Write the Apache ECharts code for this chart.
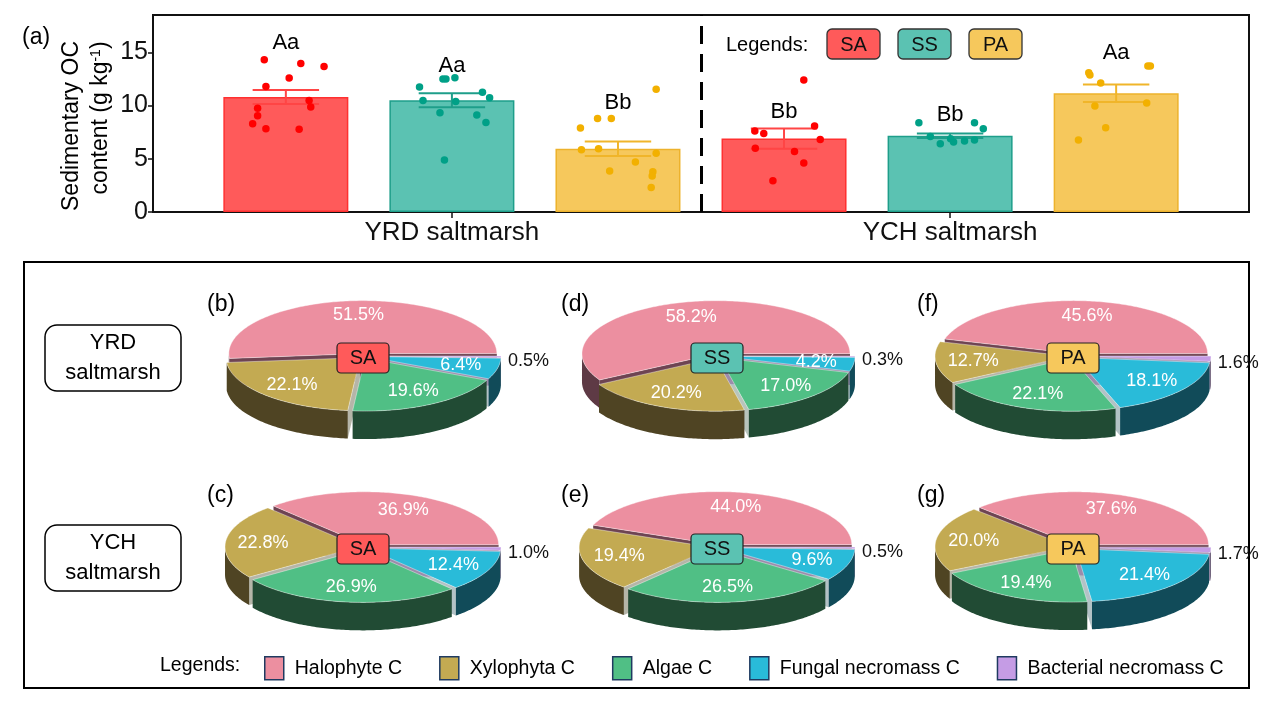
<!DOCTYPE html>
<html><head><meta charset="utf-8">
<script src="https://cdn.jsdelivr.net/npm/echarts@6/dist/echarts.min.js"></script>
<style>html,body{margin:0;padding:0;background:#fff}#c{width:1268px;height:714px}</style>
</head><body><div id="c"></div>
<script>
// ================= DATA =================
// Panel (a): sedimentary OC (g kg-1)
const sites = ['YRD saltmarsh', 'YCH saltmarsh'];
const species = ['SA', 'SS', 'PA'];
const meanYRD = [10.8, 10.5, 5.95];
const seYRD = [0.66, 0.66, 0.68];
const meanYCH = [6.9, 7.17, 11.15];
const seYCH = [0.95, 0.21, 0.83];
const lettersYRD = ['Aa', 'Aa', 'Bb'];
const lettersYCH = ['Bb', 'Bb', 'Aa'];
const yTicks = [0, 5, 10, 15];
// individual observations and their horizontal jitter (in bar units)
const obsYRD_SA = [14.3, 13.95, 13.67, 12.58, 11.78, 10.47, 9.87, 9.75, 9.03, 8.28, 7.81, 7.76];
const jitYRD_SA = [-0.13, 0.09, 0.23, 0.02, -0.12, 0.14, 0.15, -0.17, -0.17, -0.2, -0.12, 0.08];
const obsYRD_SS = [11.74, 12.49, 12.49, 12.6, 11.24, 10.74, 10.47, 10.37, 9.31, 9.12, 8.41, 4.89];
const jitYRD_SS = [-0.195, -0.054, -0.036, 0.018, 0.184, 0.227, -0.174, 0.023, -0.072, 0.15, 0.205, -0.045];
const obsYRD_PA = [11.52, 8.78, 8.78, 7.88, 5.85, 5.95, 5.51, 4.7, 3.86, 3.77, 3.39, 2.3];
const jitYRD_PA = [0.23, -0.123, -0.04, -0.226, -0.22, -0.117, 0.23, 0.105, -0.05, 0.21, 0.206, 0.2];
const obsYCH_SA = [12.39, 8.07, 7.6, 7.38, 6.82, 5.98, 5.67, 4.61, 2.93];
const jitYCH_SA = [0.119, 0.184, -0.176, -0.122, 0.218, -0.173, 0.063, 0.119, -0.067];
const obsYCH_SS = [8.37, 8.37, 7.81, 7.1, 6.88, 6.57, 6.66, 6.76, 6.41];
const jitYCH_SS = [-0.188, 0.147, 0.2, -0.119, 0.003, 0.021, 0.087, 0.147, -0.059];
const obsYCH_PA = [13.7, 13.7, 13.08, 12.86, 12.11, 9.96, 10.24, 7.91, 6.76];
const jitYCH_PA = [0.191, 0.206, -0.165, -0.158, -0.093, -0.128, 0.184, -0.063, -0.227];

// Panels (b)-(g): OC source shares (%), pie order: YRD-SA, YRD-SS, YRD-PA, YCH-SA, YCH-SS, YCH-PA
const sourceNames = ['Halophyte C', 'Xylophyta C', 'Algae C', 'Fungal necromass C', 'Bacterial necromass C'];
const pieTags = ['(b)', '(d)', '(f)', '(c)', '(e)', '(g)'];
const pieSpecies = ['SA', 'SS', 'PA', 'SA', 'SS', 'PA'];
const rowLabels = ['YRD\nsaltmarsh', 'YCH\nsaltmarsh'];
const halophyte = [51.5, 58.2, 45.6, 36.9, 44.0, 37.6];
const xylophyta = [22.1, 20.2, 12.7, 22.8, 19.4, 20.0];
const algae = [19.6, 17.0, 22.1, 26.9, 26.5, 19.4];
const fungal = [6.4, 4.2, 18.1, 12.4, 9.6, 21.4];
const bacterial = [0.5, 0.3, 1.6, 1.0, 0.5, 1.7];
const sources = [halophyte, xylophyta, algae, fungal, bacterial];

// ================= STYLE / LAYOUT =================
const FONT = '"Liberation Sans", Arial, Helvetica, sans-serif';
const barFill = ['#FF5A5A', '#5BC2B2', '#F6C85C'];
const barLine = ['#FF3030', '#1E9E8A', '#EDB22C'];
const ptColor = ['#FF0000', '#00A087', '#F2B000'];
const errColor = ['#FF4545', '#1E9E8A', '#F0B52A'];
const letterYRD = [15.9, 13.75, 10.2];
const letterYCH = [9.4, 9.15, 14.9];
const topColors = ['#EC8FA0', '#C3AA52', '#50BF85', '#29BBD9', '#C59CE5'];
const sideColors = ['#5E3A45', '#4F4423', '#214B34', '#114B59', '#4E3F5C'];
const wallColors = ['#6e4452', '#b5b5a8', '#b8c4bc', '#b3c2c6', '#9c8cab'];
const PIE = { cx: [363, 717, 1073], cy: [356, 547], rx: 134, ry: 53, depth: 28, explode: 4 };

function xPos(siteIdx, spIdx) { return siteIdx * 3 + spIdx + 1; }

// ---- bar data ----
const means = [meanYRD, meanYCH], ses = [seYRD, seYCH], letters = [lettersYRD, lettersYCH], letterPos = [letterYRD, letterYCH];
const obs = [[obsYRD_SA, obsYRD_SS, obsYRD_PA], [obsYCH_SA, obsYCH_SS, obsYCH_PA]];
const jit = [[jitYRD_SA, jitYRD_SS, jitYRD_PA], [jitYCH_SA, jitYCH_SS, jitYCH_PA]];

const barData = [], errData = [], letterData = [];
sites.forEach((s, i) => species.forEach((sp, k) => {
  const x = xPos(i, k);
  barData.push({ value: [x, means[i][k]], itemStyle: { color: barFill[k], borderColor: barLine[k], borderWidth: 1.5 } });
  errData.push([x, means[i][k], ses[i][k], k]);
  letterData.push([x, letterPos[i][k], i, k]);
}));

const pointSeries = species.map((sp, k) => {
  const d = [];
  sites.forEach((s, i) => obs[i][k].forEach((v, j) => d.push([xPos(i, k) + jit[i][k][j], v])));
  return { type: 'scatter', name: sp + ' obs', data: d, symbolSize: 7.5, itemStyle: { color: ptColor[k], opacity: 1 }, z: 5, silent: true };
});

// ---- pie geometry helpers ----
function pieGeom(p, k) {
  const vals = sources.map(s => s[p]);
  const total = vals.reduce((a, b) => a + b, 0);
  let before = 0; for (let j = 0; j < k; j++) before += vals[j];
  const a0 = before / total * 2 * Math.PI, a1 = (before + vals[k]) / total * 2 * Math.PI;
  const mid = (a0 + a1) / 2;
  const cx = PIE.cx[p % 3] + PIE.explode * Math.cos(mid);
  const cy = PIE.cy[Math.floor(p / 3)] - PIE.explode * 0.6 * Math.sin(mid);
  return { a0, a1, mid, cx, cy, value: vals[k] };
}
function ept(g, t, dz) { return [g.cx + PIE.rx * Math.cos(t), g.cy - PIE.ry * Math.sin(t) + (dz || 0)]; }
function arcPts(g, t0, t1, dz) {
  const n = Math.max(2, Math.ceil(Math.abs(t1 - t0) / (Math.PI / 180)));
  const pts = [];
  for (let i = 0; i <= n; i++) pts.push(ept(g, t0 + (t1 - t0) * i / n, dz));
  return pts;
}
const pieIdxData = pieTags.map((t, i) => [i]);

// cut faces (visible only through the explode gaps)
const wallSeries = sources.map((src, k) => ({
  type: 'custom', name: 'wall-' + k, coordinateSystem: 'none', silent: true, z: 1,
  data: pieIdxData,
  renderItem: (params, api) => {
    const p = api.value(0), g = pieGeom(p, k), D = PIE.depth, children = [];
    const wall = (t) => { const e = ept(g, t, 0); return { type: 'polygon', shape: { points: [[g.cx, g.cy], e, [e[0], e[1] + D], [g.cx, g.cy + D]] }, style: { fill: wallColors[k] } }; };
    if (Math.cos(g.a0) > 0.001) children.push(wall(g.a0));
    if (Math.cos(g.a1) < -0.001) children.push(wall(g.a1));
    return { type: 'group', children };
  }
}));

// outer curved sides
const sideSeries = sources.map((src, k) => ({
  type: 'custom', name: 'side-' + k, coordinateSystem: 'none', silent: true, z: 2,
  data: pieIdxData,
  renderItem: (params, api) => {
    const p = api.value(0), g = pieGeom(p, k), D = PIE.depth, children = [];
    const t0 = Math.max(g.a0, Math.PI), t1 = Math.min(g.a1, 2 * Math.PI);
    if (t1 > t0) {
      const top = arcPts(g, t0, t1, 0), bot = arcPts(g, t1, t0, D);
      children.push({ type: 'polygon', shape: { points: top.concat(bot) }, style: { fill: sideColors[k] } });
    }
    return { type: 'group', children };
  }
}));

// top faces with percentage labels
const topSeries = sources.map((src, k) => ({
  type: 'custom', name: sourceNames[k], coordinateSystem: 'none', silent: true, z: 3,
  data: pieIdxData,
  itemStyle: { color: topColors[k] },
  renderItem: (params, api) => {
    const p = api.value(0), g = pieGeom(p, k);
    const pts = [[g.cx, g.cy]].concat(arcPts(g, g.a0, g.a1, 0));
    const children = [{ type: 'polygon', shape: { points: pts }, style: { fill: topColors[k], stroke: 'rgba(255,255,255,0.5)', lineWidth: 0.8 } }];
    const txt = g.value.toFixed(1) + '%';
    if (g.value >= 3) {
      children.push({ type: 'text', z2: 10, x: g.cx + 0.72 * PIE.rx * Math.cos(g.mid), y: g.cy - 0.72 * PIE.ry * Math.sin(g.mid),
        style: { text: txt, fill: '#fff', fontSize: 18, fontFamily: FONT, align: 'center', verticalAlign: 'middle' } });
    } else {
      children.push({ type: 'text', z2: 10, x: g.cx + PIE.rx * Math.cos(g.mid) + 7, y: g.cy - PIE.ry * Math.sin(g.mid) + 4,
        style: { text: txt, fill: '#111', fontSize: 18, fontFamily: FONT, align: 'left', verticalAlign: 'middle' } });
    }
    return { type: 'group', children };
  }
}));

// ---- graphics (annotations) ----
const graphics = [];
function addText(x, y, text, size) {
  graphics.push({ type: 'text', x, y, z: 100, style: { text, fontSize: size, fontFamily: FONT, fill: '#000', align: 'left', verticalAlign: 'middle' } });
}
addText(22, 38, '(a)', 23);
graphics.push({ type: 'text', x: 72, y: 126, rotation: Math.PI / 2, z: 100, style: { text: 'Sedimentary OC', fontSize: 23, fontFamily: FONT, fill: '#000', align: 'center', verticalAlign: 'middle' } });
graphics.push({ type: 'text', x: 101, y: 118, rotation: Math.PI / 2, z: 100, style: { text: 'content (g kg{sup|-1})', fontSize: 23, fontFamily: FONT, fill: '#000', align: 'center', verticalAlign: 'middle', rich: { sup: { fontSize: 14, fontFamily: FONT, verticalAlign: 'top', fill: '#000' } } } });
// top legend
addText(726, 45, 'Legends:', 20);
species.forEach((sp, k) => {
  const x = 827 + k * 71;
  graphics.push({ type: 'rect', z: 100, shape: { x, y: 29, width: 53, height: 30, r: 5 }, style: { fill: barFill[k], stroke: '#333', lineWidth: 1.3 } });
  graphics.push({ type: 'text', z: 101, x: x + 26.5, y: 45, style: { text: sp, fontSize: 20, fontFamily: FONT, fill: '#111', align: 'center', verticalAlign: 'middle' } });
});
// bottom panel frame
graphics.push({ type: 'rect', z: 0, shape: { x: 24, y: 262, width: 1225, height: 426 }, style: { fill: 'none', stroke: '#000', lineWidth: 2 } });
rowLabels.forEach((t, r) => {
  const y = 325 + r * 200;
  graphics.push({ type: 'rect', z: 100, shape: { x: 45, y, width: 136, height: 66, r: 12 }, style: { fill: '#fff', stroke: '#000', lineWidth: 1.5 } });
  graphics.push({ type: 'text', z: 101, x: 113, y: y + 33, style: { text: t, fontSize: 22, lineHeight: 30, fontFamily: FONT, fill: '#000', align: 'center', verticalAlign: 'middle' } });
});
pieTags.forEach((t, p) => {
  const cx = PIE.cx[p % 3], cy = PIE.cy[Math.floor(p / 3)];
  addText(cx - 156, cy - 51, t, 23);
  const k = species.indexOf(pieSpecies[p]);
  graphics.push({ type: 'rect', z: 100, shape: { x: cx - 26, y: cy - 13, width: 52, height: 30, r: 4 }, style: { fill: barFill[k], stroke: '#222', lineWidth: 1.2 } });
  graphics.push({ type: 'text', z: 101, x: cx, y: cy + 2, style: { text: pieSpecies[p], fontSize: 20, fontFamily: FONT, fill: '#111', align: 'center', verticalAlign: 'middle' } });
});
addText(160, 666, 'Legends:', 19.5);

// ================= CHART =================
const chart = echarts.init(document.getElementById('c'), null, { renderer: 'canvas' });
chart.setOption({
  animation: false,
  backgroundColor: '#fff',
  textStyle: { fontFamily: FONT },
  grid: { left: 153, right: 19, top: 15, bottom: 502, show: true, borderColor: '#111', borderWidth: 2, containLabel: false },
  xAxis: {
    type: 'value', min: 0.2, max: 6.8,
    axisLine: { show: true, onZero: false, lineStyle: { color: '#111', width: 2 } },
    axisTick: { show: true, customValues: sites.map((s, i) => i * 3 + 2), length: 6, lineStyle: { color: '#111', width: 1.5 } },
    axisLabel: { show: true, customValues: sites.map((s, i) => i * 3 + 2), formatter: v => sites[Math.round((v - 2) / 3)], fontSize: 26, color: '#111', margin: 8 },
    splitLine: { show: false }
  },
  yAxis: {
    type: 'value', min: 0, max: 18.5,
    axisLine: { show: true, lineStyle: { color: '#111', width: 2 } },
    axisTick: { show: true, customValues: yTicks, length: 5, lineStyle: { color: '#111', width: 1.5 } },
    axisLabel: { show: true, customValues: yTicks, fontSize: 25, color: '#111', margin: 5 },
    splitLine: { show: false }
  },
  legend: {
    left: 259, top: 651, itemWidth: 19, itemHeight: 23, itemGap: 37, icon: 'rect', selectedMode: false,
    textStyle: { fontSize: 19.5, color: '#000', fontFamily: FONT, padding: [0, 0, 0, 6] },
    data: sourceNames.map((n, k) => ({ name: n, itemStyle: { color: topColors[k], borderColor: '#1F3A60', borderWidth: 1.5 } }))
  },
  graphic: graphics,
  series: [
    {
      type: 'bar', name: 'OC', data: barData, barWidth: 125, z: 2, silent: true,
      markLine: { silent: true, symbol: ['none', 'none'], label: { show: false }, lineStyle: { color: '#000', width: 3, type: [18, 10] }, data: [{ xAxis: 3.5 }] }
    },
    {
      type: 'custom', name: 'se', data: errData, z: 4, silent: true,
      renderItem: (params, api) => {
        const x = api.value(0), m = api.value(1), se = api.value(2), k = api.value(3);
        const top = api.coord([x, m + se]), bot = api.coord([x, m - se]);
        const half = api.size([0.4, 0])[0] / 2;
        const st = { stroke: errColor[k], lineWidth: 2 };
        return { type: 'group', children: [
          { type: 'line', shape: { x1: top[0], y1: top[1], x2: bot[0], y2: bot[1] }, style: st },
          { type: 'line', shape: { x1: top[0] - half, y1: top[1], x2: top[0] + half, y2: top[1] }, style: st },
          { type: 'line', shape: { x1: bot[0] - half, y1: bot[1], x2: bot[0] + half, y2: bot[1] }, style: st }
        ] };
      }
    },
    ...pointSeries,
    {
      type: 'custom', name: 'letters', data: letterData, z: 6, silent: true,
      renderItem: (params, api) => {
        const p = api.coord([api.value(0), api.value(1)]);
        const i = api.value(2), k = api.value(3);
        return { type: 'text', x: p[0], y: p[1], style: { text: letters[i][k], fontSize: 22, fontFamily: FONT, fill: '#000', align: 'center', verticalAlign: 'middle' } };
      }
    },
    ...topSeries,
    ...sideSeries,
    ...wallSeries
  ]
});
</script>
</body></html>
